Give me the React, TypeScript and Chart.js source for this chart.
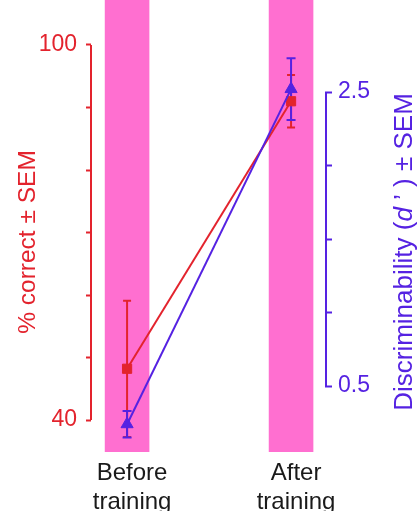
import React, { useEffect, useRef } from 'react';
import { Chart, registerables } from 'chart.js';

Chart.register(...registerables);

// ---- data ----
const categories = [['Before', 'training'], ['After', 'training']];
const categoryPos = [0, 1];
const percentCorrect = [48.2, 91.0];
const percentSem = [10.9, 4.2];
const dPrime = [0.24, 2.52];
const dPrimeSem = [0.09, 0.21];
const leftTicks = [40, 50, 60, 70, 80, 90, 100];
const leftLabeled = [40, 100];
const rightTicks = [0.5, 1.0, 1.5, 2.0, 2.5];
const rightLabeled = [0.5, 2.5];
const leftTitle = '% correct \u00b1 SEM';

// ---- style ----
const RED = '#e3232d';
const BLUE = '#5522e2';
const PINK = '#ff6fd0';
const FONT = '"Liberation Sans", Arial, Helvetica, sans-serif';
const W = 417;
const H = 511;

const decorPlugin = {
  id: 'decor',
  beforeDatasetsDraw(chart: any) {
    const { ctx, chartArea, scales } = chart;
    const x = scales.x;
    const yL = scales.yL;
    const yR = scales.yR;
    ctx.save();
    // training bands
    ctx.fillStyle = PINK;
    categoryPos.forEach((c) => {
      const l = x.getPixelForValue(c - 0.136);
      const r = x.getPixelForValue(c + 0.136);
      ctx.fillRect(l, chartArea.top, r - l, chartArea.bottom - chartArea.top);
    });
    // axis lines
    ctx.lineWidth = 2;
    ctx.strokeStyle = RED;
    ctx.beginPath();
    ctx.moveTo(yL.right, yL.getPixelForValue(leftTicks[0]));
    ctx.lineTo(yL.right, yL.getPixelForValue(leftTicks[leftTicks.length - 1]));
    ctx.stroke();
    ctx.strokeStyle = BLUE;
    ctx.beginPath();
    ctx.moveTo(yR.left + 1, yR.getPixelForValue(rightTicks[0]));
    ctx.lineTo(yR.left + 1, yR.getPixelForValue(rightTicks[rightTicks.length - 1]));
    ctx.stroke();
    // error bars
    const drawErr = (vals: number[], errs: number[], ys: any, color: string, cap: number) => {
      ctx.strokeStyle = color;
      ctx.lineWidth = 2;
      vals.forEach((v, i) => {
        const px = x.getPixelForValue(categoryPos[i]);
        const top = ys.getPixelForValue(v + errs[i]);
        const bot = ys.getPixelForValue(v - errs[i]);
        ctx.beginPath();
        ctx.moveTo(px, top);
        ctx.lineTo(px, bot);
        ctx.moveTo(px - cap, top);
        ctx.lineTo(px + cap, top);
        ctx.moveTo(px - cap, bot);
        ctx.lineTo(px + cap, bot);
        ctx.stroke();
      });
    };
    drawErr(percentCorrect, percentSem, yL, RED, 4);
    drawErr(dPrime, dPrimeSem, yR, BLUE, 4.5);
    ctx.restore();
  },
  afterDraw(chart: any) {
    const { ctx } = chart;
    ctx.save();
    // left title
    ctx.fillStyle = RED;
    ctx.font = `24.5px ${FONT}`;
    ctx.textAlign = 'center';
    ctx.textBaseline = 'middle';
    ctx.translate(28, 242);
    ctx.rotate(-Math.PI / 2);
    ctx.fillText(leftTitle, 0, 0);
    ctx.restore();

    // right title with italic d
    ctx.save();
    const parts = [
      { t: 'Discriminability (', f: `26px ${FONT}` },
      { t: 'd', f: `italic 26px ${FONT}` },
      { t: ' \u2019 ) \u00b1 SEM', f: `26px ${FONT}` },
    ];
    let total = 0;
    const widths = parts.map((p) => {
      ctx.font = p.f;
      const w = ctx.measureText(p.t).width;
      total += w;
      return w;
    });
    ctx.fillStyle = BLUE;
    ctx.textAlign = 'left';
    ctx.textBaseline = 'middle';
    ctx.translate(405, 252);
    ctx.rotate(-Math.PI / 2);
    let cx = -total / 2;
    parts.forEach((p, i) => {
      ctx.font = p.f;
      ctx.fillText(p.t, cx, 0);
      cx += widths[i];
    });
    ctx.restore();
  },
};

export default function App() {
  const ref = useRef<HTMLCanvasElement>(null);

  useEffect(() => {
    if (!ref.current) return;
    const chart = new Chart(ref.current, {
      type: 'line',
      data: {
        datasets: [
          {
            label: 'd-prime',
            data: categoryPos.map((c, i) => ({ x: c, y: dPrime[i] })),
            yAxisID: 'yR',
            borderColor: BLUE,
            backgroundColor: BLUE,
            borderWidth: 2,
            pointStyle: 'triangle',
            pointRadius: 7,
            pointBorderWidth: 1,
            tension: 0,
            clip: false,
          },
          {
            label: 'percent',
            data: categoryPos.map((c, i) => ({ x: c, y: percentCorrect[i] })),
            yAxisID: 'yL',
            borderColor: RED,
            backgroundColor: RED,
            borderWidth: 2,
            pointStyle: 'rect',
            pointRadius: 6.5,
            pointBorderWidth: 1,
            tension: 0,
            clip: false,
          },
        ],
      },
      options: {
        animation: false,
        responsive: false,
        layout: { padding: 0, autoPadding: false },
        plugins: { legend: { display: false }, tooltip: { enabled: false } },
        scales: {
          x: {
            type: 'linear',
            min: -0.22,
            max: 1.207,
            afterBuildTicks: (s: any) => {
              s.ticks = categoryPos.map((v) => ({ value: v }));
            },
            ticks: {
              autoSkip: false,
              maxRotation: 0,
              color: '#1a1a1a',
              font: { family: FONT, size: 24 },
              padding: 7,
              labelOffset: 5,
              callback: (v: any) => categories[categoryPos.indexOf(v)],
            },
            grid: { display: false, drawTicks: false },
            border: { display: false },
            afterFit: (s: any) => {
              s.height = 59;
              s.paddingLeft = 0;
              s.paddingRight = 0;
            },
          },
          yL: {
            type: 'linear',
            position: 'left',
            min: 34.88,
            max: 107.2,
            afterBuildTicks: (s: any) => {
              s.ticks = leftTicks.map((v) => ({ value: v }));
            },
            ticks: {
              autoSkip: false,
              color: RED,
              font: { family: FONT, size: 23 },
              padding: 9,
              callback: (v: any) => (leftLabeled.includes(v) ? String(v) : ''),
            },
            grid: { drawOnChartArea: false, tickLength: 5, tickWidth: 2, tickColor: RED, color: RED },
            border: { display: false },
            afterFit: (s: any) => {
              s.width = 91;
              s.paddingTop = 0;
              s.paddingBottom = 0;
            },
          },
          yR: {
            type: 'linear',
            position: 'right',
            min: 0.051,
            max: 3.126,
            afterBuildTicks: (s: any) => {
              s.ticks = rightTicks.map((v) => ({ value: v }));
            },
            ticks: {
              autoSkip: false,
              color: BLUE,
              font: { family: FONT, size: 23 },
              padding: 6,
              callback: (v: any) => (rightLabeled.includes(v) ? v.toFixed(1) : ''),
            },
            grid: { drawOnChartArea: false, tickLength: 7, tickWidth: 2, tickColor: BLUE, color: BLUE },
            border: { display: false },
            afterFit: (s: any) => {
              s.width = 92;
              s.paddingTop = 0;
              s.paddingBottom = 0;
            },
          },
        },
      } as any,
      plugins: [decorPlugin],
    });
    return () => chart.destroy();
  }, []);

  return (
    <div style={{ position: 'absolute', left: 0, top: 0, width: W, height: H, background: '#fff' }}>
      <canvas ref={ref} width={W} height={H} style={{ width: W, height: H, display: 'block' }} />
    </div>
  );
}
